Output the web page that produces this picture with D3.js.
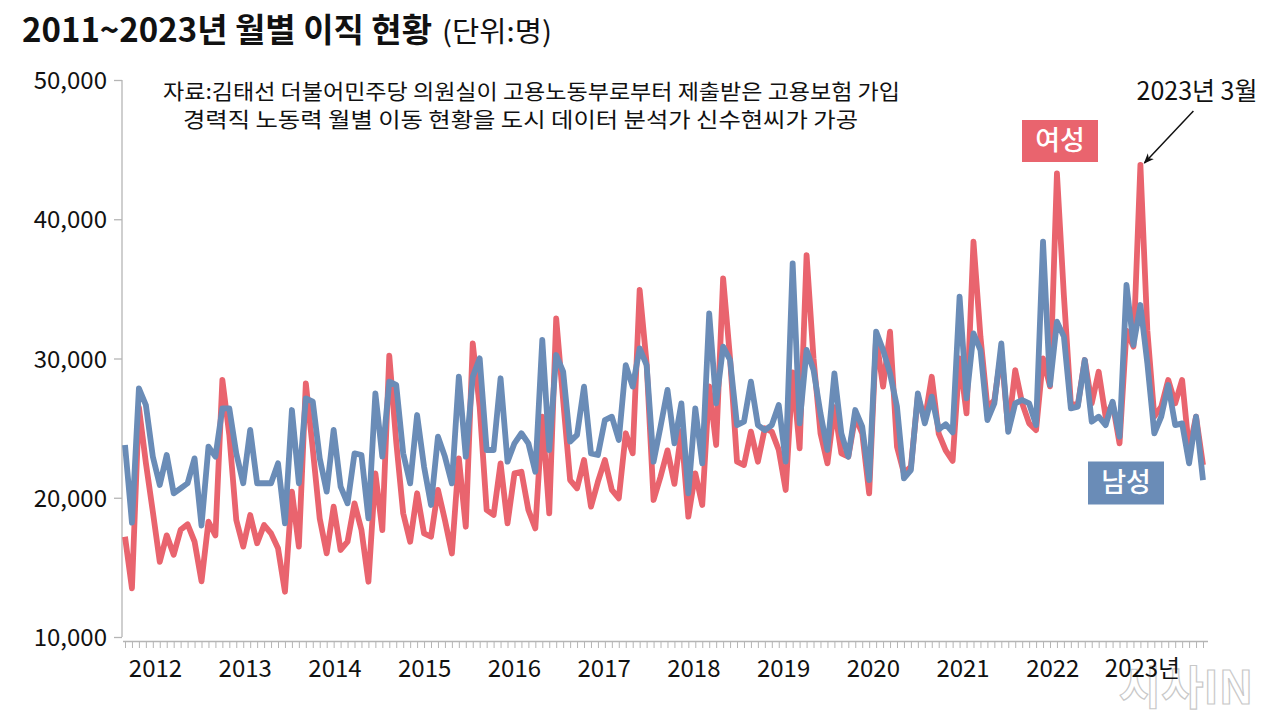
<!DOCTYPE html>
<html><head><meta charset="utf-8">
<script src="https://cdn.jsdelivr.net/npm/d3@7"></script>
<style>
html,body{margin:0;padding:0;background:#fff;}
text{font-family:"Noto Sans CJK KR","Noto Sans",sans-serif;}
</style></head>
<body>
<svg id="chart" width="1280" height="725"></svg>
<script>
// ---- data ----
const startMonth = "2011-01";
const monthCount = 156; // 2011-01 .. 2023-12
const female = [17200,13500,26500,22500,19000,15400,17300,15900,17700,18100,16850,14000,
18280,17300,28460,24500,18400,16490,18760,16730,18040,17440,16370,13250,
20440,16490,28220,23500,18500,16010,19360,16250,16850,19600,17680,13970,
21750,17680,30200,24000,18880,16840,20320,17440,17200,20560,18400,16000,
22830,17920,31090,26500,19120,18760,22470,18160,21750,21870,19120,17800,
25820,18880,32880,27000,21270,20680,22710,19360,21150,22710,20560,19960,
24630,23190,34920,29650,19840,21510,23400,21000,24800,18640,21750,19480,
28000,23790,35760,30000,22590,22350,24750,22590,24990,24750,23430,20560,
29000,23550,37430,30000,24630,22470,26500,23190,22950,25800,24630,20320,
31500,27980,31930,23670,21750,22230,27260,25580,28690,24600,23400,22650,
30000,26060,38390,31570,26500,27000,30500,24860,29170,26780,25340,24860,
30000,28000,43300,34500,26780,26660,29890,26780,29050,25820,26780,23900,
32000,30850,43900,32000,25820,26540,28460,26780,28460,23430,25820,22350];
const male = [23790,18210,27860,26660,22950,20920,23070,20320,20680,21040,22830,18000,
23670,22950,26420,26420,23190,21040,24870,21040,21040,21040,22470,18160,
26300,21040,27140,26900,22830,20440,24870,20800,19600,23190,23070,18520,
27500,22950,28340,28100,23190,21030,25940,22230,19480,24390,22950,21030,
28690,22950,28690,30010,23430,23430,28580,22590,23910,24630,23910,21870,
31330,23430,30250,29060,24030,24510,27980,23190,23070,25580,25820,24150,
29530,27980,30730,29530,22590,25100,27740,23910,26780,20320,26420,22470,
33240,26780,30850,29890,25220,25460,28340,25220,24860,25220,26660,22590,
36830,25340,30610,29170,26060,23430,28930,24630,22950,26300,25100,21270,
31930,30610,28930,26540,21390,21990,27500,25340,27260,24900,25280,24700,
34440,27140,31800,30610,25580,26780,31090,24740,26780,27020,26780,25220,
38390,28100,32640,31570,26420,26540,29890,25460,25820,25220,26900,24380,
35280,30970,33840,29650,24620,25820,28100,25220,25340,22470,25820,21270];
const yTicks = [10000,20000,30000,40000,50000];
const yearLabels = ["2012","2013","2014","2015","2016","2017","2018","2019","2020","2021","2022","2023년"];
const seriesNames = ["여성","남성"];
const titleMain = "2011~2023년 월별 이직 현황";
const titleUnit = "(단위:명)";
const sourceLines = ["자료:김태선 더불어민주당 의원실이 고용노동부로부터 제출받은 고용보험 가입",
                     "경력직 노동력 월별 이동 현황을 도시 데이터 분석가 신수현씨가 가공"];
const peakNote = "2023년 3월";
const peakIndex = 146;

// ---- drawing ----
const RED = "#e9646e", BLUE = "#6a8cb7", AX = "#b5b5b5";
const svg = d3.select("#chart");
const parse = d3.timeParse("%Y-%m");
const fmtM = d3.timeFormat("%Y-%m");
const months = d3.timeMonth.range(parse(startMonth), d3.timeMonth.offset(parse(startMonth), monthCount)).map(fmtM);

const x = d3.scalePoint().domain(months).range([125, 1203]);
const y = d3.scaleLinear().domain([10000, 50000]).range([637, 80]);
const xYear = d3.scalePoint().domain(yearLabels).range([155, 1142]);

// watermark (behind everything)
svg.append("text").attr("x", 1186).attr("y", 704).attr("text-anchor", "middle")
  .attr("font-size", 46).attr("font-weight", 700)
  .attr("fill", "#fff").attr("fill-opacity", 0.6).attr("stroke", "#c8c8c8").attr("stroke-width", 1.2)
  .text("시사IN").style("font-family", '"Noto Sans CJK KR",serif');

// title
svg.append("text").attr("x", 22).attr("y", 42).attr("fill", "#111")
  .attr("font-size", 33).attr("font-weight", 700)
  .attr("textLength", 410).attr("lengthAdjust", "spacingAndGlyphs").text(titleMain);
svg.append("text").attr("x", 442).attr("y", 42).attr("fill", "#111")
  .attr("font-size", 28).attr("font-weight", 400)
  .attr("textLength", 110).attr("lengthAdjust", "spacingAndGlyphs").text(titleUnit);

// y axis
const yAxis = svg.append("g").attr("transform", "translate(122,0)")
  .call(d3.axisLeft(y).tickValues(yTicks).tickFormat(d3.format(",")).tickSize(8).tickPadding(7));
yAxis.select(".domain").attr("stroke", AX).attr("stroke-width", 1.3).attr("d", "M0," + y(10000) + "V" + y(50000));
yAxis.selectAll(".tick line").attr("stroke", AX).attr("stroke-width", 1.3);
yAxis.selectAll(".tick text").attr("font-size", 24).attr("fill", "#111")
  .attr("font-family", '"Noto Sans CJK KR",sans-serif').attr("dy", "0.36em");

// x axis monthly ticks
const xAxis = svg.append("g").attr("transform", "translate(0,641)")
  .call(d3.axisBottom(x).tickValues(months).tickFormat("").tickSize(7));
xAxis.select(".domain").attr("stroke", AX).attr("stroke-width", 1.3).attr("d", "M123,0.5H1208");
xAxis.selectAll(".tick line").attr("stroke", AX).attr("stroke-width", 1);

// year labels
const xLab = svg.append("g").attr("transform", "translate(0,677)")
  .call(d3.axisBottom(xYear).tickSize(0).tickPadding(0));
xLab.select(".domain").remove();
xLab.selectAll(".tick text").attr("font-size", 24).attr("fill", "#111").attr("dy", 0)
  .attr("font-family", '"Noto Sans CJK KR",sans-serif');

// lines
const line = d3.line().x((d, i) => x(months[i])).y(d => y(d));
svg.append("path").datum(female).attr("d", line).attr("fill", "none")
  .attr("stroke", RED).attr("stroke-width", 5.8).attr("stroke-linejoin", "round");
svg.append("path").datum(male).attr("d", line).attr("fill", "none")
  .attr("stroke", BLUE).attr("stroke-width", 5.8).attr("stroke-linejoin", "round");

// source note
svg.append("text").attr("x", 163).attr("y", 99).attr("font-size", 21).attr("fill", "#111")
  .attr("textLength", 737).attr("lengthAdjust", "spacingAndGlyphs").text(sourceLines[0]);
svg.append("text").attr("x", 183).attr("y", 127).attr("font-size", 21).attr("fill", "#111")
  .attr("textLength", 675).attr("lengthAdjust", "spacingAndGlyphs").text(sourceLines[1]);

// series label boxes
function labelBox(cx, cy, w, h, color, txt) {
  svg.append("rect").attr("x", cx - w / 2).attr("y", cy - h / 2).attr("width", w).attr("height", h).attr("fill", color);
  svg.append("text").attr("x", cx).attr("y", cy).attr("dy", "0.35em").attr("text-anchor", "middle")
    .attr("font-size", 27).attr("font-weight", 500).attr("fill", "#fff").text(txt);
}
labelBox(1060, 141, 76, 42, RED, seriesNames[0]);
labelBox(1126, 483, 76, 43, BLUE, seriesNames[1]);

// peak annotation
svg.append("defs").append("marker").attr("id", "arr").attr("viewBox", "0 0 10 10")
  .attr("refX", 9).attr("refY", 5).attr("markerWidth", 7).attr("markerHeight", 7)
  .attr("orient", "auto").append("path").attr("d", "M0,1L10,5L0,9L3,5Z").attr("fill", "#111");
const px = x(months[peakIndex]), py = y(female[peakIndex]);
svg.append("line").attr("x1", px + 53).attr("y1", py - 54).attr("x2", px + 4).attr("y2", py - 2)
  .attr("stroke", "#111").attr("stroke-width", 1.5).attr("marker-end", "url(#arr)");
svg.append("text").attr("x", 1197).attr("y", 100).attr("text-anchor", "middle")
  .attr("font-size", 25).attr("fill", "#111")
  .attr("textLength", 121).attr("lengthAdjust", "spacingAndGlyphs").text(peakNote);
</script>
</body></html>
